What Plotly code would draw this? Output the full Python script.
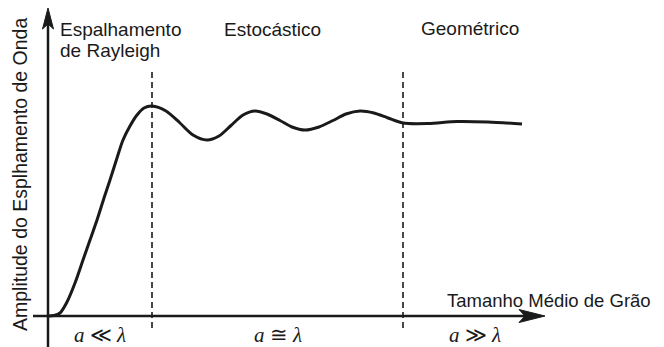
import plotly.graph_objects as go

# Schematic data (x: mean grain size, y: scattering amplitude), arbitrary units
grain_size = [0, 6, 12, 19, 27, 35, 42, 49, 56, 62, 69, 75, 82, 89, 96, 104,
              118, 132, 145, 159, 171, 183, 195, 207, 219, 232, 244, 257,
              271, 285, 298, 312, 326, 340, 355, 380, 409, 440, 474]
amplitude = [0, 0.5, 3, 14, 33, 56, 76, 96, 118, 136, 158, 176, 190, 201, 208, 210,
             205, 193, 181, 176, 180, 190.5, 201, 205, 202, 195.5, 189, 186,
             189, 195.5, 202, 205, 203, 198, 193, 192.5, 194.5, 194, 192]
boundaries = [104, 355]
region_titles = ["Espalhamento", "de Rayleigh", "Estocástico", "Geométrico"]
regime_labels = ["<i>a</i> ≪ <i>λ</i>", "<i>a</i> ≅ <i>λ</i>", "<i>a</i> ≫ <i>λ</i>"]
x_title = "Tamanho Médio de Grão"
y_title = "Amplitude do Esplhamento de Onda"

INK = "#1a1a1a"
SANS = "Liberation Sans, Arial, sans-serif"
SERIF = "Liberation Serif, DejaVu Serif, serif"

fig = go.Figure()
fig.add_trace(go.Scatter(
    x=grain_size, y=amplitude, mode="lines",
    line=dict(color=INK, width=3, shape="spline", smoothing=0.8),
    hoverinfo="skip", showlegend=False,
))

shapes = []
# axes
shapes.append(dict(type="line", x0=-15, x1=480, y0=0, y1=0, line=dict(color=INK, width=2.5)))
shapes.append(dict(type="line", x0=0, x1=0, y0=-31, y1=294, line=dict(color=INK, width=2.5)))
# arrowheads
shapes.append(dict(type="path", path="M 497 0 L 471 6.5 L 477 0 L 471 -6.5 Z",
                   fillcolor=INK, line=dict(color=INK, width=1)))
shapes.append(dict(type="path", path="M 0 308 L -5.5 287 L 0 292 L 5.5 287 Z",
                   fillcolor=INK, line=dict(color=INK, width=1)))
# region boundaries
for b in boundaries:
    shapes.append(dict(type="line", x0=b, x1=b, y0=-12, y1=247,
                       line=dict(color=INK, width=1.6, dash="6px,4px")))

ends = [0] + boundaries + [499]
annotations = []
for i, lab in enumerate(regime_labels):
    cx = (ends[i] + ends[i + 1]) / 2
    annotations.append(dict(x=cx, y=-19, text=lab, showarrow=False, xanchor="center", yanchor="middle",
                            font=dict(family=SERIF, size=21, color=INK)))

annotations.append(dict(x=10, y=287, text=region_titles[0], showarrow=False, xanchor="left", yanchor="middle",
                        font=dict(family=SANS, size=19, color=INK)))
annotations.append(dict(x=10, y=266, text=region_titles[1], showarrow=False, xanchor="left", yanchor="middle",
                        font=dict(family=SANS, size=19, color=INK)))
annotations.append(dict(x=224, y=287, text=region_titles[2], showarrow=False, xanchor="center", yanchor="middle",
                        font=dict(family=SANS, size=19, color=INK)))
annotations.append(dict(x=422, y=288, text=region_titles[3], showarrow=False, xanchor="center", yanchor="middle",
                        font=dict(family=SANS, size=19, color=INK)))
annotations.append(dict(x=397, y=16, text=x_title, showarrow=False, xanchor="left", yanchor="middle",
                        font=dict(family=SANS, size=18.5, color=INK)))
annotations.append(dict(x=-28, y=141, text=y_title, showarrow=False, textangle=-90,
                        xanchor="center", yanchor="middle",
                        font=dict(family=SANS, size=19.5, color=INK)))

fig.update_layout(
    width=664, height=347,
    margin=dict(l=0, r=0, t=0, b=0),
    paper_bgcolor="white", plot_bgcolor="white",
    xaxis=dict(range=[-48, 616], visible=False, fixedrange=True),
    yaxis=dict(range=[-31, 316], visible=False, fixedrange=True),
    shapes=shapes, annotations=annotations,
    showlegend=False,
)
fig.write_html("out.html", config={"displayModeBar": False},
               post_script="document.body.style.margin='0';document.body.style.overflow='hidden';")
